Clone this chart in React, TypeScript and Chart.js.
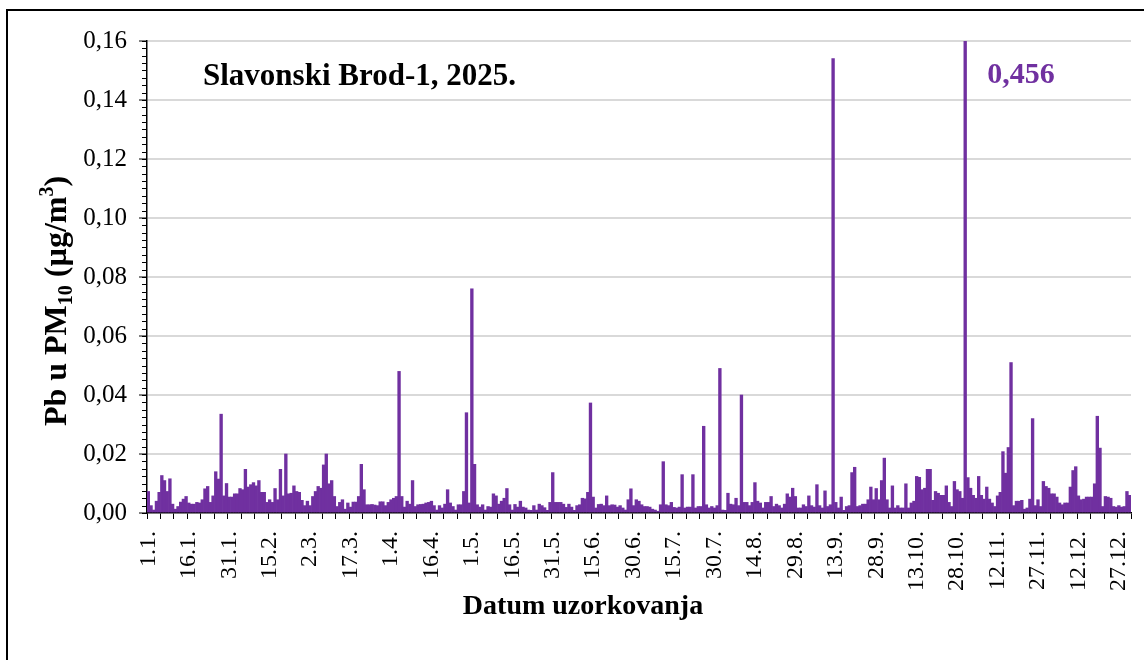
import React, { useEffect, useRef } from 'react';
import { Chart, registerables } from 'chart.js';

Chart.register(...registerables);

const FONT = "'Liberation Serif', 'Times New Roman', serif";
const BAR_COLOR = '#7030A0';

const monthLengths = [31, 28, 31, 30, 31, 30, 31, 31, 30, 31, 30, 31];

const jan = [0.0073, 0.0025, 0.001, 0.004, 0.007, 0.0127, 0.011, 0.0073, 0.0116, 0.003, 0.0013, 0.0022, 0.0037, 0.0047, 0.0056, 0.0034, 0.003, 0.003, 0.0036, 0.0034, 0.0045, 0.0082, 0.009, 0.0036, 0.0058, 0.014, 0.0115, 0.0335, 0.0058, 0.01, 0.0054];
const feb = [0.0054, 0.0065, 0.0065, 0.0083, 0.0079, 0.0148, 0.0088, 0.0096, 0.0103, 0.0092, 0.011, 0.007, 0.007, 0.0036, 0.0045, 0.0036, 0.0083, 0.0045, 0.0148, 0.0058, 0.02, 0.0065, 0.0067, 0.0092, 0.0073, 0.007, 0.0043, 0.0025];
const mar = [0.004, 0.0025, 0.0056, 0.0073, 0.009, 0.0084, 0.0163, 0.02, 0.0099, 0.011, 0.0056, 0.0022, 0.0036, 0.0045, 0.0013, 0.0034, 0.002, 0.0037, 0.0037, 0.0056, 0.0165, 0.0079, 0.0028, 0.0028, 0.0029, 0.0027, 0.0025, 0.0038, 0.0038, 0.0025, 0.0036];
const apr = [0.0045, 0.005, 0.0056, 0.048, 0.0056, 0.002, 0.004, 0.003, 0.011, 0.0022, 0.0028, 0.0029, 0.003, 0.0034, 0.0036, 0.004, 0.0025, 0.001, 0.0025, 0.0017, 0.003, 0.0079, 0.0034, 0.0022, 0.001, 0.0028, 0.0028, 0.0073, 0.034, 0.0034];
const may = [0.076, 0.0165, 0.0028, 0.002, 0.0028, 0.001, 0.0022, 0.002, 0.0065, 0.0058, 0.003, 0.004, 0.005, 0.0083, 0.0028, 0.001, 0.0029, 0.002, 0.004, 0.002, 0.0017, 0.001, 0.0009, 0.0025, 0.001, 0.003, 0.0025, 0.0018, 0.0009, 0.0036, 0.0137];
const jun = [0.0036, 0.0036, 0.0036, 0.003, 0.0019, 0.003, 0.002, 0.0009, 0.0025, 0.0028, 0.005, 0.0048, 0.007, 0.0373, 0.0054, 0.0017, 0.0029, 0.003, 0.0025, 0.0058, 0.0025, 0.0028, 0.0027, 0.002, 0.0025, 0.0017, 0.001, 0.0045, 0.0082, 0.0025];
const jul = [0.0045, 0.004, 0.0028, 0.0022, 0.0022, 0.002, 0.0013, 0.001, 0.0006, 0.0028, 0.0174, 0.0028, 0.0025, 0.0036, 0.0019, 0.0017, 0.002, 0.013, 0.0017, 0.002, 0.002, 0.013, 0.0017, 0.0022, 0.0022, 0.0294, 0.0028, 0.0017, 0.0022, 0.0017, 0.0025];
const aug = [0.049, 0.001, 0.0009, 0.0067, 0.003, 0.0028, 0.005, 0.0025, 0.04, 0.0036, 0.0036, 0.0025, 0.0036, 0.0103, 0.004, 0.0034, 0.0017, 0.0036, 0.0036, 0.0056, 0.0022, 0.003, 0.0025, 0.0017, 0.003, 0.0065, 0.0054, 0.0084, 0.0056, 0.0017, 0.0017];
const sep = [0.0028, 0.0022, 0.0058, 0.0025, 0.002, 0.0096, 0.0025, 0.0017, 0.0075, 0.0022, 0.0028, 0.154, 0.0036, 0.0017, 0.0054, 0.0009, 0.0022, 0.0025, 0.0137, 0.0155, 0.0022, 0.0025, 0.003, 0.003, 0.0045, 0.0088, 0.0045, 0.0083, 0.0045, 0.011];
const oct = [0.0186, 0.0045, 0.0017, 0.0092, 0.0017, 0.0025, 0.0017, 0.0017, 0.0099, 0.0017, 0.0034, 0.004, 0.0124, 0.0121, 0.0079, 0.0084, 0.0148, 0.0148, 0.0043, 0.0073, 0.0067, 0.006, 0.006, 0.0092, 0.0036, 0.0022, 0.0107, 0.0079, 0.0073, 0.005, 0.456];
const nov = [0.012, 0.0084, 0.006, 0.005, 0.0124, 0.006, 0.0047, 0.0088, 0.0047, 0.0034, 0.0022, 0.0058, 0.007, 0.0208, 0.0135, 0.0222, 0.051, 0.0025, 0.004, 0.004, 0.0043, 0.0013, 0.0017, 0.0047, 0.032, 0.0025, 0.0045, 0.0022, 0.0107, 0.009];
const dec = [0.0084, 0.0065, 0.0065, 0.0054, 0.0034, 0.0028, 0.0034, 0.0034, 0.0088, 0.0144, 0.0157, 0.0058, 0.0045, 0.0047, 0.0054, 0.0054, 0.0054, 0.0099, 0.0328, 0.022, 0.0022, 0.0056, 0.0054, 0.005, 0.0022, 0.002, 0.0025, 0.002, 0.0022, 0.0073, 0.006];

const values = [...jan, ...feb, ...mar, ...apr, ...may, ...jun, ...jul, ...aug, ...sep, ...oct, ...nov, ...dec];

const categories: string[] = [];
monthLengths.forEach((n, m) => {
  for (let d = 1; d <= n; d++) categories.push(`${d}.${m + 1}.`);
});

const Y_MIN = 0;
const Y_MAX = 0.16;
const Y_STEP = 0.02;
const Y_MINOR = 0.0025;
const LABEL_EVERY = 15;
const TICK_EVERY = 5;

const chartTitle = 'Slavonski Brod-1, 2025.';
const xTitle = 'Datum uzorkovanja';
const peakLabel = '0,456';

const decoPlugin = {
  id: 'deco',
  afterDraw(chart: any) {
    const { ctx, chartArea, scales } = chart;
    const y = scales.y;
    ctx.save();
    // outer frame (left + top visible)
    ctx.strokeStyle = '#000';
    ctx.lineWidth = 2;
    ctx.beginPath();
    ctx.moveTo(7, 662);
    ctx.lineTo(7, 10);
    ctx.lineTo(1146, 10);
    ctx.stroke();

    // y minor ticks
    ctx.lineWidth = 1;
    ctx.beginPath();
    for (let v = Y_MIN; v <= Y_MAX + 1e-9; v += Y_MINOR) {
      const py = Math.round(y.getPixelForValue(v)) + 0.5;
      ctx.moveTo(chartArea.left - 5, py);
      ctx.lineTo(chartArea.left, py);
    }
    ctx.stroke();

    // chart title
    ctx.fillStyle = '#000';
    ctx.font = `bold 31px ${FONT}`;
    ctx.textAlign = 'left';
    ctx.textBaseline = 'alphabetic';
    ctx.fillText(chartTitle, 203, 85);

    // peak label
    const meta = chart.getDatasetMeta(0);
    let maxI = 0;
    values.forEach((v, i) => { if (v > values[maxI]) maxI = i; });
    const bar = meta.data[maxI];
    ctx.fillStyle = BAR_COLOR;
    ctx.font = `bold 30px ${FONT}`;
    ctx.fillText(peakLabel, bar.x + 22, 83);

    // x title
    ctx.fillStyle = '#000';
    ctx.font = `bold 28px ${FONT}`;
    ctx.textAlign = 'center';
    ctx.fillText(xTitle, 583, 614);

    // y title with sub/superscript
    const big = `bold 32px ${FONT}`;
    const small = `bold 20px ${FONT}`;
    const parts = [
      { t: 'Pb u PM', f: big, dy: 0 },
      { t: '10', f: small, dy: 6 },
      { t: ' (\u00b5g/m', f: big, dy: 0 },
      { t: '3', f: small, dy: -13 },
      { t: ')', f: big, dy: 0 },
    ];
    let total = 0;
    parts.forEach((p) => { ctx.font = p.f; total += ctx.measureText(p.t).width; });
    ctx.translate(66, 301);
    ctx.rotate(-Math.PI / 2);
    ctx.textAlign = 'left';
    let x = -total / 2;
    parts.forEach((p) => {
      ctx.font = p.f;
      ctx.fillText(p.t, x, p.dy);
      x += ctx.measureText(p.t).width;
    });
    ctx.restore();
  },
};

export default function App() {
  const ref = useRef<HTMLCanvasElement | null>(null);
  useEffect(() => {
    if (!ref.current) return;
    const chart = new Chart(ref.current, {
      type: 'bar',
      data: {
        labels: categories,
        datasets: [
          {
            data: values,
            backgroundColor: BAR_COLOR,
            borderWidth: 0,
            barPercentage: 1,
            categoryPercentage: 1,
          },
        ],
      },
      options: {
        animation: false,
        responsive: true,
        maintainAspectRatio: false,
        layout: { padding: { left: 0, top: 41, right: 13, bottom: 0 } },
        plugins: { legend: { display: false }, tooltip: { enabled: false }, title: { display: false } },
        scales: {
          x: {
            ticks: {
              autoSkip: false,
              maxRotation: 90,
              minRotation: 90,
              padding: 12,
              color: '#000',
              font: { family: FONT, size: 24 },
              callback: (_v: any, i: number) => (i % LABEL_EVERY === 0 ? categories[i] : ''),
            },
            grid: {
              drawOnChartArea: false,
              offset: true,
              tickLength: 6,
              tickWidth: 1,
              tickColor: (c: any) => (c.index === undefined || c.index % TICK_EVERY === 0 ? '#000' : 'rgba(0,0,0,0)'),
            },
            border: { color: '#000', width: 1.5 },
            afterFit: (s: any) => { s.height = 147; s.paddingLeft = 0; s.paddingRight = 0; },
          },
          y: {
            min: Y_MIN,
            max: Y_MAX,
            ticks: {
              stepSize: Y_STEP,
              padding: 12,
              color: '#000',
              font: { family: FONT, size: 25 },
              callback: (v: any) => Number(v).toFixed(2).replace('.', ','),
            },
            grid: {
              color: (c: any) => (c.tick && c.tick.value === 0 ? 'rgba(0,0,0,0)' : '#d9d9d9'),
              lineWidth: 2,
              tickColor: '#000',
              tickLength: 8,
              tickWidth: 1,
            },
            border: { color: '#000', width: 1.5 },
            afterFit: (s: any) => { s.width = 147; },
          },
        },
      },
      plugins: [decoPlugin],
    });
    return () => chart.destroy();
  }, []);
  return (
    <div style={{ position: 'fixed', left: 0, top: 0, width: 1144, height: 660, background: '#fff' }}>
      <canvas ref={ref} />
    </div>
  );
}
